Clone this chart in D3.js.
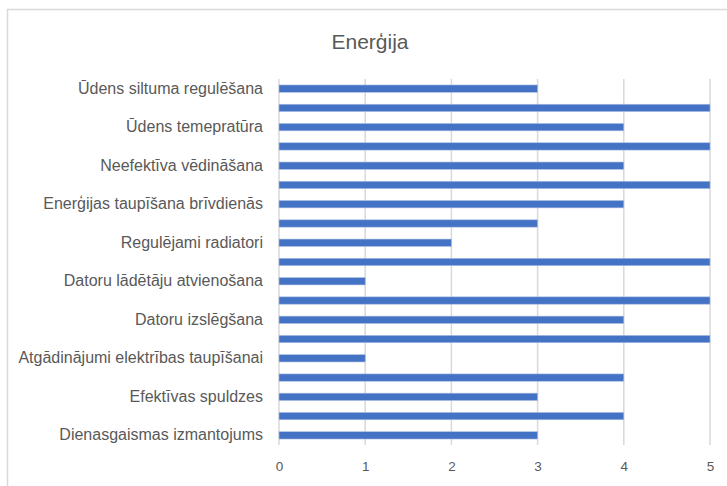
<!DOCTYPE html>
<html>
<head>
<meta charset="utf-8">
<script src="https://cdn.jsdelivr.net/npm/d3@7"></script>
<style>
  html, body { margin: 0; padding: 0; background: #fff; }
  svg { display: block; font-family: "Liberation Sans", Arial, sans-serif; }
</style>
</head>
<body>
<div id="chart"></div>
<script>
// categories top to bottom; every second label is skipped on the axis (as in the source)
var categories = [
    "Ūdens siltuma regulēšana", "",
    "Ūdens temepratūra", "",
    "Neefektīva vēdināšana", "",
    "Enerģijas taupīšana brīvdienās", "",
    "Regulējami radiatori", "",
    "Datoru lādētāju atvienošana", "",
    "Datoru izslēgšana", "",
    "Atgādinājumi elektrības taupīšanai", "",
    "Efektīvas spuldzes", "",
    "Dienasgaismas izmantojums"
];
var values = [3, 5, 4, 5, 4, 5, 4, 3, 2, 5, 1, 5, 4, 5, 1, 4, 3, 4, 3];
var xTicks = [0, 1, 2, 3, 4, 5];
var title = "Enerģija";

(function () {
    "use strict";

    var w = 727,
        h = 486,
        left = 279,
        right = 710,
        top = 79,
        bottom = 445,
        textColor = "#595959",
        gridColor = "#d9d9d9",
        barColor = "#4472c4";

    var svg = d3.select("#chart")
        .append("svg")
        .attr("width", w)
        .attr("height", h);

    // chart frame (only top and left edges visible in the crop)
    svg.append("path")
        .attr("d", "M7.5," + h + "V9.5H" + w)
        .attr("fill", "none")
        .attr("stroke", gridColor)
        .attr("stroke-width", 1.5);

    var x = d3.scaleLinear().domain([0, 5]).range([left, right]);
    var y = d3.scaleBand()
        .domain(d3.range(categories.length))
        .range([top, bottom])
        .paddingInner(0.62)
        .paddingOuter(0.31);

    svg.append("text")
        .text(title)
        .attr("x", 370)
        .attr("y", 49)
        .attr("text-anchor", "middle")
        .attr("font-size", 21)
        .attr("fill", textColor);

    // gridlines
    svg.append("g")
        .selectAll("line")
        .data(xTicks)
        .enter()
        .append("line")
        .attr("x1", function (d) { return x(d); })
        .attr("x2", function (d) { return x(d); })
        .attr("y1", top)
        .attr("y2", bottom)
        .attr("stroke", gridColor)
        .attr("stroke-width", 1.5);

    // x axis labels
    var xAxis = svg.append("g")
        .attr("transform", "translate(0," + (bottom + 10) + ")")
        .call(d3.axisBottom(x).tickValues(xTicks).tickSize(0).tickPadding(6).tickFormat(d3.format("d")));
    xAxis.select(".domain").remove();
    xAxis.selectAll("text")
        .attr("font-size", 13.5)
        .attr("font-family", "Liberation Sans, Arial, sans-serif")
        .attr("fill", textColor);

    // bars
    svg.append("g")
        .selectAll("rect")
        .data(values)
        .enter()
        .append("rect")
        .attr("x", x(0))
        .attr("y", function (d, i) { return y(i); })
        .attr("width", function (d) { return x(d) - x(0); })
        .attr("height", y.bandwidth())
        .attr("fill", barColor)
        .attr("stroke", "#a9bde3")
        .attr("stroke-width", 0.6);

    // category axis
    var labelled = d3.range(categories.length).filter(function (i) { return i % 2 === 0; });
    var yAxis = svg.append("g")
        .attr("transform", "translate(" + left + ",0)")
        .call(d3.axisLeft(y).tickValues(labelled).tickSize(0).tickPadding(16)
            .tickFormat(function (i) { return categories[i]; }));
    yAxis.select(".domain").remove();
    yAxis.selectAll("text")
        .attr("font-size", 16)
        .attr("font-family", "Liberation Sans, Arial, sans-serif")
        .attr("fill", textColor);
})();
</script>
</body>
</html>
